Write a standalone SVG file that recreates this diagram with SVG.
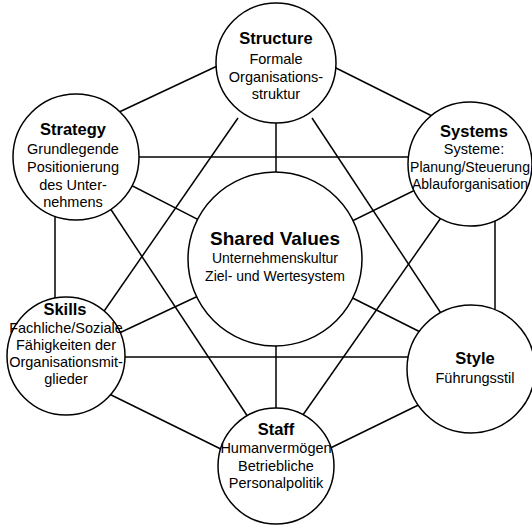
<svg xmlns="http://www.w3.org/2000/svg" width="532" height="525" viewBox="0 0 532 525">
<style>
.bg{fill:#fff}
.c{fill:#fff;stroke:#000;stroke-width:1.5}
.l{stroke:#000;stroke-width:1.5;fill:none}
text{font-family:"Liberation Sans",Arial,sans-serif;fill:#000;text-anchor:middle}
.t{font-size:16.5px;font-weight:bold}
.tb{font-size:19px;font-weight:bold}
.b{font-size:14.5px}
.bs{font-size:14px}
</style>
<rect class="bg" x="0" y="0" width="532" height="525"/>
<g id="connectors">
<line class="l" x1="100" y1="121" x2="230" y2="60"/>
<line class="l" x1="320" y1="60" x2="450" y2="125"/>
<line class="l" x1="276" y1="63" x2="276" y2="259"/>
<line class="l" x1="238" y1="118" x2="91" y2="330"/>
<line class="l" x1="312" y1="118" x2="460" y2="342"/>
<line class="l" x1="120" y1="157" x2="430" y2="157"/>
<line class="l" x1="76" y1="157" x2="275" y2="259"/>
<line class="l" x1="55" y1="190" x2="55" y2="330"/>
<line class="l" x1="100" y1="193" x2="252" y2="423"/>
<line class="l" x1="470" y1="163" x2="275" y2="259"/>
<line class="l" x1="495" y1="190" x2="495" y2="340"/>
<line class="l" x1="445" y1="212" x2="298" y2="422"/>
<line class="l" x1="66" y1="358" x2="275" y2="260"/>
<line class="l" x1="100" y1="357" x2="440" y2="357"/>
<line class="l" x1="95" y1="387" x2="235" y2="456"/>
<line class="l" x1="275" y1="259" x2="470" y2="357"/>
<line class="l" x1="310" y1="458" x2="445" y2="392"/>
<line class="l" x1="276" y1="259" x2="276" y2="466"/>
</g>
<g id="structure">
<circle class="c" cx="276" cy="63" r="60"/>
<text class="t" x="276" y="44">Structure</text>
<text class="b" x="276" y="64">Formale</text>
<text class="b" x="276" y="82">Organisations-</text>
<text class="b" x="276" y="99">struktur</text>
</g>
<g id="strategy">
<circle class="c" cx="76" cy="157" r="63"/>
<text class="t" x="73" y="135">Strategy</text>
<text class="b" x="73" y="154">Grundlegende</text>
<text class="b" x="73" y="172">Positionierung</text>
<text class="b" x="73" y="190">des Unter-</text>
<text class="b" x="73" y="207">nehmens</text>
</g>
<g id="systems">
<circle class="c" cx="470" cy="164" r="62"/>
<text class="t" x="474" y="137">Systems</text>
<text class="b" x="474" y="154">Systeme:</text>
<text class="bs" x="470" y="172">Planung/Steuerung</text>
<text class="bs" x="470" y="189">Ablauforganisation</text>
</g>
<g id="shared-values">
<circle class="c" cx="275" cy="259" r="87"/>
<text class="tb" x="275" y="245">Shared Values</text>
<text class="bs" x="275" y="263">Unternehmenskultur</text>
<text class="bs" x="275" y="281">Ziel- und Wertesystem</text>
</g>
<g id="skills">
<circle class="c" cx="66" cy="356" r="59"/>
<text class="t" x="65" y="315">Skills</text>
<text class="b" x="66" y="333">Fachliche/Soziale</text>
<text class="b" x="66" y="350">Fähigkeiten der</text>
<text class="b" x="66" y="367">Organisationsmit-</text>
<text class="b" x="66" y="384">glieder</text>
</g>
<g id="style">
<circle class="c" cx="471" cy="369" r="64"/>
<text class="t" x="475" y="364">Style</text>
<text class="b" x="475" y="383">Führungsstil</text>
</g>
<g id="staff">
<circle class="c" cx="276" cy="466" r="58"/>
<text class="t" x="276" y="435">Staff</text>
<text class="b" x="276" y="453">Humanvermögen</text>
<text class="b" x="276" y="471">Betriebliche</text>
<text class="b" x="276" y="488">Personalpolitik</text>
</g>
</svg>
